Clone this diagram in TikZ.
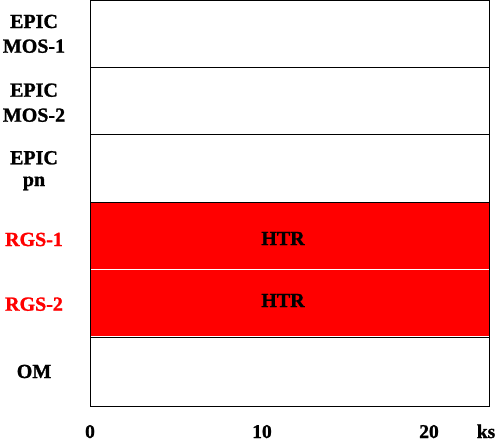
\documentclass[tikz,border=0pt]{standalone}
\usepackage{fontspec}
\setmainfont[BoldFeatures={FakeBold=1.2}]{Liberation Serif}
\begin{document}
\begin{tikzpicture}[x=1pt,y=-1pt,
  lab/.style={anchor=base,font=\fontsize{20}{23}\selectfont\bfseries,inner sep=0pt},
  rlab/.style={lab,text=red},
  axl/.style={anchor=base,font=\fontsize{19.5}{22}\selectfont\bfseries,inner sep=0pt},
  frame/.style={draw=black,line width=1pt}]
\useasboundingbox (0,0) rectangle (499,442);
% red instrument band
\fill[red] (90.5,202) rectangle (489,335.5);
\draw[white,line width=1pt] (90.5,269) -- (489,269);
% frame and separators
\draw[frame] (90.5,406) -- (90.5,0.5) -- (489,0.5) -- (489,406) -- cycle;
\draw[frame] (90.5,67) -- (489,67);
\draw[frame] (90.5,134) -- (489,134);
\draw[frame] (90.5,202) -- (489,202);
\draw[frame] (90.5,337) -- (489,337);
% row labels
\node[lab] (m1a) at (34,28) {EPIC};
\node[lab] (m1b) at (34,52.7) {MOS-1};
\node[lab] (m2a) at (34,96.7) {EPIC};
\node[lab] (m2b) at (34,121.7) {MOS-2};
\node[lab] (pna) at (34,164.3) {EPIC};
\node[lab] (pnb) at (34,186) {pn};
\node[rlab] (r1) at (34,246) {RGS-1};
\node[rlab] (r2) at (34,310.7) {RGS-2};
\node[lab] (om) at (34,378) {OM};
% mode labels
\node[lab] (h1) at (283,245) {HTR};
\node[lab] (h2) at (283,307) {HTR};
% axis labels
\node[axl] (t0) at (90,438) {0};
\node[axl] (t10) at (262,438) {10};
\node[axl] (t20) at (429,438) {20};
\node[axl] (ks) at (486,438) {ks};
\end{tikzpicture}
\end{document}
